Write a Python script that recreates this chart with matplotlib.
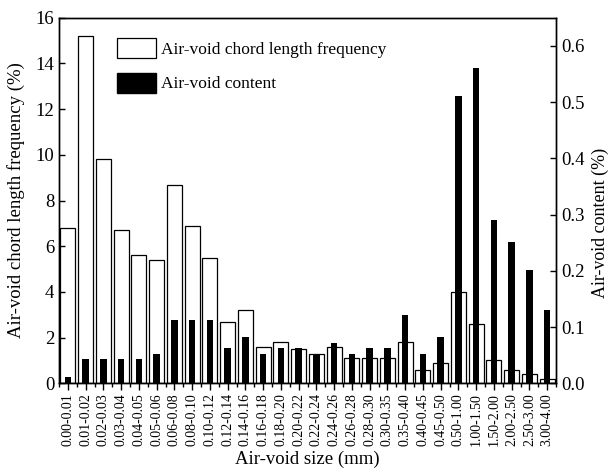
import numpy as np
import matplotlib.pyplot as plt
from matplotlib.patches import Patch

plt.rcParams['font.family'] = ['Liberation Serif', 'DejaVu Serif']

sizes = ['0.00-0.01', '0.01-0.02', '0.02-0.03', '0.03-0.04', '0.04-0.05',
         '0.05-0.06', '0.06-0.08', '0.08-0.10', '0.10-0.12', '0.12-0.14',
         '0.14-0.16', '0.16-0.18', '0.18-0.20', '0.20-0.22', '0.22-0.24',
         '0.24-0.26', '0.26-0.28', '0.28-0.30', '0.30-0.35', '0.35-0.40',
         '0.40-0.45', '0.45-0.50', '0.50-1.00', '1.00-1.50', '1.50-2.00',
         '2.00-2.50', '2.50-3.00', '3.00-4.00']
# chord length frequency (%)
freq = [6.8, 15.2, 9.8, 6.7, 5.6, 5.4, 8.7, 6.9, 5.5, 2.7, 3.2, 1.6, 1.8, 1.5,
        1.3, 1.6, 1.1, 1.1, 1.1, 1.8, 0.6, 0.9, 4.0, 2.6, 1.0, 0.6, 0.4, 0.2]
# air-void content (%)
content = [0.012, 0.043, 0.043, 0.043, 0.043, 0.052, 0.112, 0.112, 0.112,
           0.062, 0.083, 0.052, 0.062, 0.062, 0.052, 0.072, 0.052, 0.062,
           0.062, 0.121, 0.052, 0.082, 0.51, 0.561, 0.291, 0.252, 0.201, 0.131]


def main():
    x = np.arange(len(sizes))
    fig = plt.figure(figsize=(6.11, 4.75), dpi=100)
    ax = fig.add_axes([0.0966, 0.193, 0.8134, 0.7697])
    ax.bar(x, freq, width=0.84, color='white', edgecolor='black', linewidth=0.9)
    ax.set_xlim(-0.5, len(sizes) - 0.5)
    ax.set_ylim(0, 16)
    ax.set_yticks(np.arange(0, 17, 2))
    ax.set_xticks(x)
    ax.set_xticklabels(sizes, rotation=90, fontsize=10)
    ax.set_xticks(np.arange(-0.5, len(sizes), 1), minor=True)
    ax.tick_params(axis='x', which='major', direction='out', length=5, width=1, pad=2)
    ax.tick_params(axis='x', which='minor', direction='out', length=3, width=1)
    ax.tick_params(axis='y', direction='in', length=4, width=1, labelsize=13.5)
    ax.set_xlabel('Air-void size (mm)', fontsize=13.5, labelpad=3)
    ax.set_ylabel('Air-void chord length frequency (%)', fontsize=13.5)
    ax.yaxis.set_label_coords(-0.068, 0.5)

    ax2 = ax.twinx()
    ax2.bar(x, content, width=0.37, color='black')
    ax2.set_ylim(0, 0.65)
    ax2.set_yticks(np.arange(0, 0.61, 0.1))
    ax2.set_yticklabels(['%.1f' % v for v in np.arange(0, 0.61, 0.1)])
    ax2.tick_params(axis='y', direction='in', length=4, width=1, labelsize=13.5)
    ax2.set_ylabel('Air-void content (%)', fontsize=13)
    ax2.yaxis.set_label_coords(1.072, 0.44)

    handles = [Patch(facecolor='white', edgecolor='black', linewidth=0.9),
               Patch(facecolor='black', edgecolor='black')]
    ax.legend(handles, ['Air-void chord length frequency', 'Air-void content'],
              loc='upper left', bbox_to_anchor=(0.117, 0.945), frameon=False,
              fontsize=12.5, handlelength=2.25, handleheight=1.4,
              labelspacing=0.85, handletextpad=0.3, borderpad=0,
              borderaxespad=0)

    for a in (ax, ax2):
        for s in a.spines.values():
            s.set_linewidth(1)

    fig.savefig('out.png', dpi=100)


if __name__ == '__main__':
    main()
